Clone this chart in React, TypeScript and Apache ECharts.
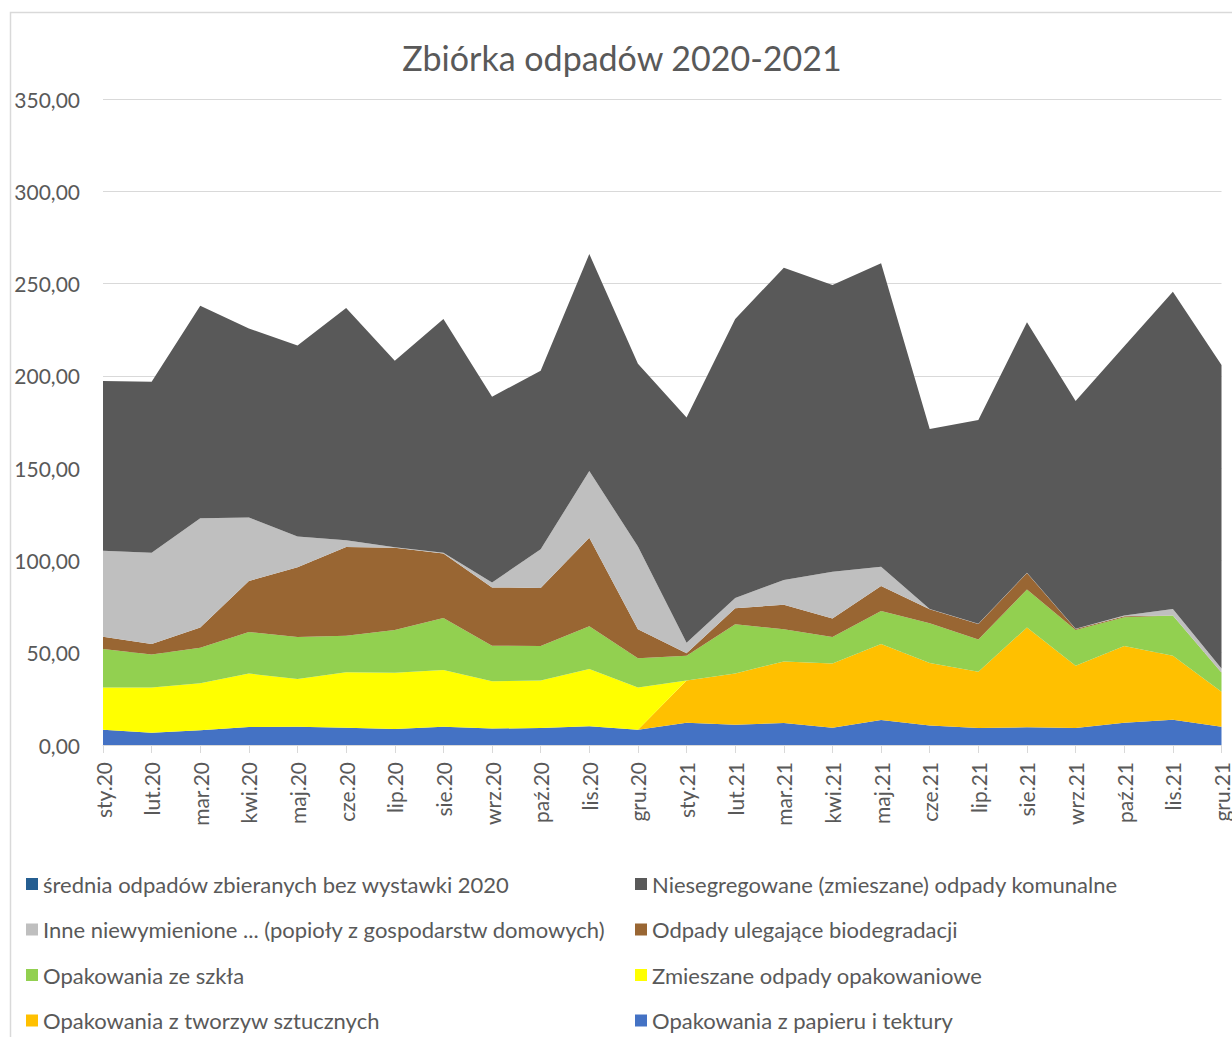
import React, { useEffect, useRef } from "react";
import * as echarts from "echarts";

const categories = [
  "sty.20", "lut.20", "mar.20", "kwi.20", "maj.20", "cze.20", "lip.20", "sie.20", "wrz.20", "paź.20", "lis.20", "gru.20",
  "sty.21", "lut.21", "mar.21", "kwi.21", "maj.21", "cze.21", "lip.21", "sie.21", "wrz.21", "paź.21", "lis.21", "gru.21",
];

const papier = [8.3, 6.7, 8.0, 9.8, 9.9, 9.4, 8.7, 9.9, 8.9, 9.2, 10.1, 8.3, 12.1, 11.0, 11.9, 9.4, 13.5, 10.5, 9.2, 9.6, 9.2, 12.1, 13.7, 9.9];
const tworzywa = [0, 0, 0, 0, 0, 0, 0, 0, 0, 0, 0, 0, 22.9, 27.8, 33.4, 34.8, 41.2, 33.9, 30.5, 54.1, 33.8, 41.5, 34.7, 19.0];
const zmieszaneOpak = [22.8, 24.4, 25.4, 28.9, 25.9, 30.0, 30.5, 30.7, 25.6, 25.7, 31.1, 22.8, 0, 0, 0, 0, 0, 0, 0, 0, 0, 0, 0, 0];
const szklo = [20.9, 18.0, 19.3, 22.5, 22.7, 19.8, 23.1, 28.2, 19.3, 18.7, 23.1, 15.9, 13.4, 26.6, 17.4, 14.3, 17.9, 21.5, 17.5, 20.6, 19.3, 15.6, 21.7, 10.3];
const bio = [6.7, 5.6, 11.0, 27.7, 37.8, 48.1, 44.6, 35.0, 31.6, 31.5, 48.0, 15.7, 1.3, 8.7, 13.3, 10.1, 13.5, 7.6, 8.4, 8.9, 0.5, 0.5, 0.1, 0.1];
const inne = [46.6, 49.5, 59.1, 34.4, 16.6, 3.6, 0.3, 0.3, 2.7, 20.9, 36.2, 44.8, 5.7, 5.5, 13.4, 25.3, 10.5, 0.2, 0.1, 0.1, 0.2, 0.4, 3.5, 2.1];
const niesegregowane = [91.9, 92.6, 115.2, 102.4, 103.6, 125.9, 101.0, 126.7, 100.6, 96.8, 117.5, 99.0, 122.1, 151.2, 169.2, 155.3, 164.4, 97.5, 110.4, 135.7, 123.4, 145.9, 171.9, 164.5];
const srednia: (number | null)[] = [];

const yTicks = { min: 0, max: 350, interval: 50 };

const seriesDefs = [
  { name: "Opakowania z papieru i tektury", data: papier, color: "#4472C4" },
  { name: "Opakowania z tworzyw sztucznych", data: tworzywa, color: "#FFC000" },
  { name: "Zmieszane odpady opakowaniowe", data: zmieszaneOpak, color: "#FFFF00" },
  { name: "Opakowania ze szkła", data: szklo, color: "#92D050" },
  { name: "Odpady ulegające biodegradacji", data: bio, color: "#996633" },
  { name: "Inne niewymienione ... (popioły z gospodarstw domowych)", data: inne, color: "#BFBFBF" },
  { name: "Niesegregowane (zmieszane) odpady komunalne", data: niesegregowane, color: "#595959" },
  { name: "średnia odpadów zbieranych bez wystawki 2020", data: srednia, color: "#255E91" },
];

// legend layout: [name, left, rowCenterY]
const legendLayout: [string, number, number][] = [
  ["średnia odpadów zbieranych bez wystawki 2020", 26, 886],
  ["Niesegregowane (zmieszane) odpady komunalne", 635, 886],
  ["Inne niewymienione ... (popioły z gospodarstw domowych)", 26, 931.5],
  ["Odpady ulegające biodegradacji", 635, 931.5],
  ["Opakowania ze szkła", 26, 977],
  ["Zmieszane odpady opakowaniowe", 635, 977],
  ["Opakowania z tworzyw sztucznych", 26, 1022.5],
  ["Opakowania z papieru i tektury", 635, 1022.5],
];

const FONT = "Lato, 'Open Sans', sans-serif";
const TXT = "#595959";
const GRID = "#D9D9D9";

export default function App() {
  const ref = useRef<HTMLDivElement>(null);
  useEffect(() => {
    if (!ref.current) return;
    const chart = echarts.init(ref.current, undefined, { renderer: "svg" });
    const option: any = {
      animation: false,
      backgroundColor: "#FFFFFF",
      textStyle: { fontFamily: FONT },
      graphic: [
        {
          type: "rect",
          shape: { x: 10.5, y: 12.5, width: 1400, height: 1200 },
          style: { fill: "none", stroke: GRID, lineWidth: 1.5 },
          silent: true,
        },
        {
          type: "text",
          x: 622,
          y: 57,
          style: {
            text: "Zbiórka odpadów 2020-2021",
            fontFamily: FONT,
            fontSize: 34,
            fill: TXT,
            textAlign: "center",
            textVerticalAlign: "middle",
          },
        },
      ],
      grid: { left: 103, right: 10, top: 99, bottom: 292, containLabel: false },
      xAxis: {
        type: "category",
        data: categories,
        boundaryGap: false,
        axisLine: { show: true, lineStyle: { color: GRID, width: 1 } },
        axisTick: { show: true, length: 8, interval: 0, lineStyle: { color: GRID } },
        axisLabel: {
          rotate: 90,
          interval: 0,
          margin: 17,
          fontSize: 21,
          color: TXT,
          fontFamily: FONT,
        },
        splitLine: { show: false },
      },
      yAxis: {
        type: "value",
        min: yTicks.min,
        max: yTicks.max,
        interval: yTicks.interval,
        axisLine: { show: false },
        axisTick: { show: false },
        axisLabel: {
          margin: 23,
          fontSize: 21,
          color: TXT,
          fontFamily: FONT,
          formatter: (v: number) => v.toFixed(2).replace(".", ","),
        },
        splitLine: { lineStyle: { color: GRID, width: 1 } },
      },
      legend: legendLayout.map(([name, left, cy]) => ({
        data: [name],
        left,
        top: cy - 13,
        padding: 0,
        itemWidth: 12,
        itemHeight: 12,
        icon: "rect",
        selectedMode: false,
        textStyle: { fontSize: 22, color: TXT, fontFamily: FONT, padding: [0, 0, 0, 0] },
      })),
      series: seriesDefs.map((s) => ({
        name: s.name,
        type: "line",
        stack: "total",
        data: s.data,
        symbol: "none",
        showSymbol: false,
        color: s.color,
        lineStyle: { width: 0, color: s.color },
        areaStyle: { color: s.color, opacity: 1 },
        itemStyle: { color: s.color },
      })),
    };
    chart.setOption(option);
    return () => chart.dispose();
  }, []);
  return (
    <div
      ref={ref}
      style={{ position: "absolute", left: 0, top: 0, width: 1232, height: 1037 }}
    />
  );
}
